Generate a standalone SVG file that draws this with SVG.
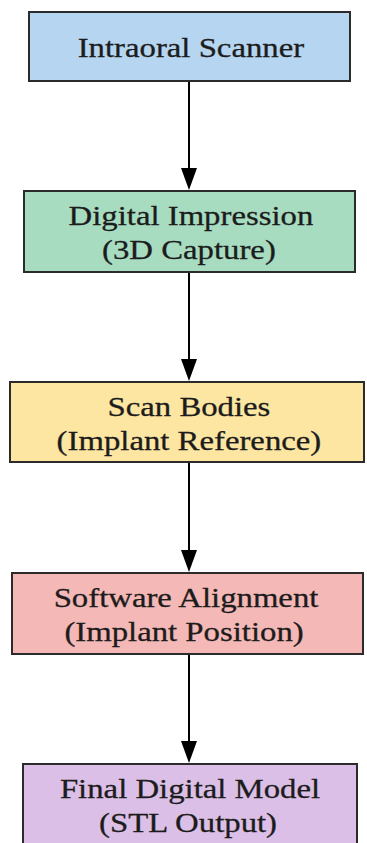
<svg xmlns="http://www.w3.org/2000/svg" width="367" height="843" viewBox="0 0 367 843">
<style>
.box{stroke:#2b2b2b;stroke-width:2}
.t{font-family:"Liberation Serif","Times New Roman",serif;font-size:28px;fill:#1c1c1c;stroke:#1c1c1c;stroke-width:0.3;text-anchor:middle}
.c{stroke:#000;stroke-width:2;fill:none;marker-end:url(#ah)}
</style>
<defs>
<marker id="ah" markerUnits="userSpaceOnUse" viewBox="0 0 22 16" refX="18" refY="8" markerWidth="22" markerHeight="16" orient="auto">
<path d="M0,0 L22,8 L0,16 Z" fill="#000"/>
</marker>
</defs>
<rect width="367" height="843" fill="#fff"/>
<g id="connectors">
<line class="c" x1="189" y1="81" x2="189" y2="186"/>
<line class="c" x1="189" y1="272" x2="189" y2="377"/>
<line class="c" x1="189" y1="462" x2="189" y2="568"/>
<line class="c" x1="189" y1="654" x2="189" y2="759"/>
</g>
<g id="node1">
<rect class="box" x="29" y="12" width="321" height="69" fill="#b5d5f0"/>
<g transform="scale(1.17,1)"><text class="t" x="163.2" y="57">Intraoral Scanner</text></g>
</g>
<g id="node2">
<rect class="box" x="24" y="191" width="331" height="81" fill="#a7dcc1"/>
<g transform="scale(1.17,1)">
<text class="t" x="163.2" y="225">Digital Impression</text>
<text class="t" x="161.5" y="259">(3D Capture)</text>
</g>
</g>
<g id="node3">
<rect class="box" x="10" y="382" width="354" height="80" fill="#fde6a2"/>
<g transform="scale(1.17,1)">
<text class="t" x="161.5" y="416">Scan Bodies</text>
<text class="t" x="161.5" y="450">(Implant Reference)</text>
</g>
</g>
<g id="node4">
<rect class="box" x="12" y="573" width="351" height="81" fill="#f4b8b6"/>
<g transform="scale(1.17,1)">
<text class="t" x="159" y="607">Software Alignment</text>
<text class="t" x="157.3" y="641">(Implant Position)</text>
</g>
</g>
<g id="node5">
<rect class="box" x="23" y="764" width="334" height="86" fill="#dcbfe6"/>
<g transform="scale(1.17,1)">
<text class="t" x="162.4" y="798">Final Digital Model</text>
<text class="t" x="160.7" y="832">(STL Output)</text>
</g>
</g>
</svg>
